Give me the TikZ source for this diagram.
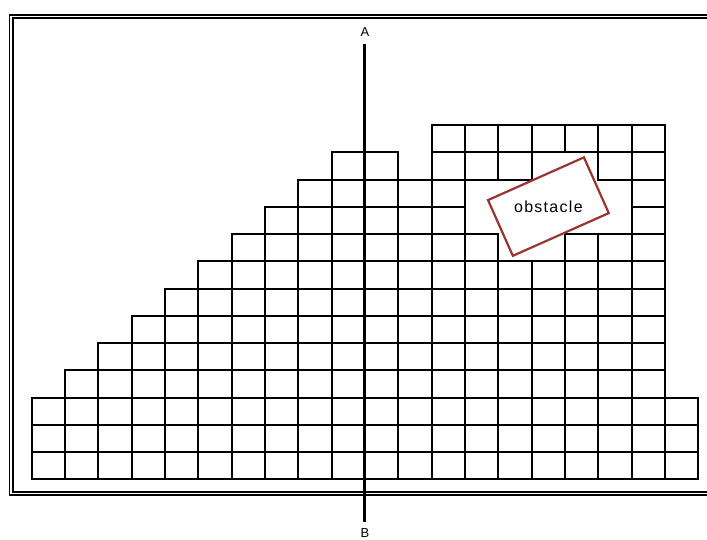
\documentclass[tikz,border=0pt]{standalone}
\usepackage{fontspec}
\setmainfont{Liberation Sans}
\definecolor{obstred}{RGB}{155,52,48}
\begin{document}
\begin{tikzpicture}[x=33.33pt, y=27.25pt,
  cell/.style={draw, line width=2pt},
  axislabel/.style={font=\fontsize{13}{15}\selectfont, inner sep=7pt},
  obstaclebox/.style={draw=obstred, line width=2.2pt, fill=white, minimum width=105pt, minimum height=61pt, inner sep=0pt, font=\fontsize{16}{18}\selectfont\addfontfeatures{LetterSpace=8}}]
\useasboundingbox (-0.948,-2.191) rectangle (20.264,17.589);
\clip (-0.948,-2.191) rectangle (20.264,17.589);
% double frame, runs out on the right
\draw[double, double distance=1.7pt, line width=1.5pt] (-0.609,-0.517) rectangle (20.8,16.985);
% grid cells: row/first column/last column
\foreach \r/\a/\b in {0/0/19, 1/0/19, 2/0/19, 3/1/18, 4/2/18, 5/3/18, 6/4/18, 7/5/18,
  8/6/13, 8/16/18, 9/7/12, 9/18/18, 10/8/12, 10/18/18,
  11/9/10, 11/12/14, 11/17/18, 12/12/18}
  \foreach \c in {\a,...,\b}
    \draw[cell] (\c,\r) rectangle ++(1,1);
% section line
\node[axislabel] (A) at (10,16.42) {A};
\node[axislabel] (B) at (10,-1.98) {B};
\draw[line width=3pt] (A) -- (B);
\node[obstaclebox, rotate=24] (obstacle) at (15.505,10.007) {\rotatebox{-24}{obstacle}};
\end{tikzpicture}
\end{document}
